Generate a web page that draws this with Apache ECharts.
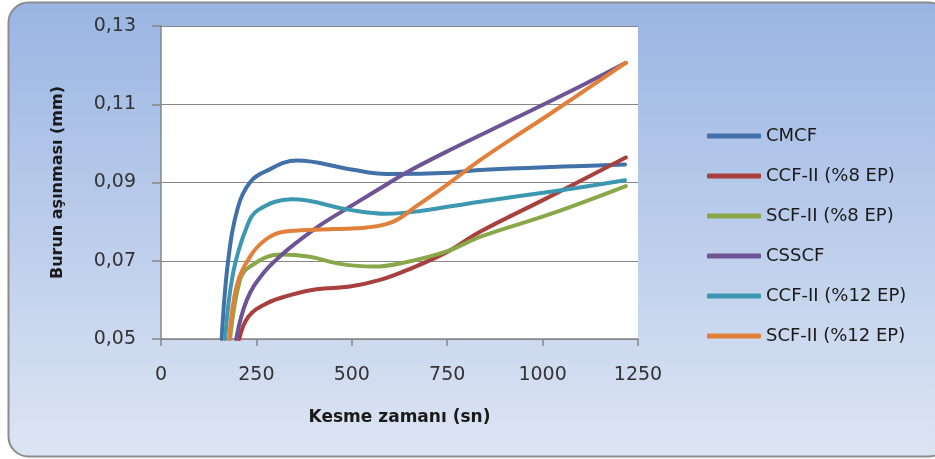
<!DOCTYPE html>
<html>
<head>
<meta charset="utf-8">
<script src="https://cdn.jsdelivr.net/npm/echarts@6/dist/echarts.min.js"></script>
<style>
  html, body { margin: 0; padding: 0; background: #ffffff; }
  #chart { width: 935px; height: 459px; }
</style>
</head>
<body>
<div id="chart"></div>
<script>
// Tool nose wear (mm) against cutting time (s) for six cutting fluids.
const seriesNames = ['CMCF', 'CCF-II (%8 EP)', 'SCF-II (%8 EP)', 'CSSCF', 'CCF-II (%12 EP)', 'SCF-II (%12 EP)'];

const tCMCF = [159, 176, 202, 233, 273, 356, 495, 591, 757, 836, 1216];
const wCMCF = [0.050, 0.0700, 0.0838, 0.0900, 0.0928, 0.0956, 0.0934, 0.0922, 0.0925, 0.0932, 0.0946];

const tCCF8 = [205, 229, 277, 338, 408, 495, 574, 644, 749, 836, 1011, 1218];
const wCCF8 = [0.050, 0.0557, 0.0591, 0.0612, 0.0627, 0.0634, 0.0651, 0.0676, 0.0722, 0.0774, 0.0860, 0.0964];

const tSCF8 = [181, 207, 233, 312, 390, 469, 556, 626, 749, 836, 1019, 1218];
const wSCF8 = [0.050, 0.0651, 0.0685, 0.0716, 0.0710, 0.0692, 0.0685, 0.0693, 0.0724, 0.0761, 0.0819, 0.0891];

const tCSSCF = [197, 225, 268, 321, 364, 425, 495, 591, 661, 757, 932, 1107, 1218];
const wCSSCF = [0.050, 0.0600, 0.0668, 0.0719, 0.0753, 0.0796, 0.0838, 0.0895, 0.0935, 0.0983, 0.1066, 0.1150, 0.1206];

const tCCF12 = [168, 189, 225, 255, 343, 495, 591, 679, 836, 1053, 1216];
const wCCF12 = [0.050, 0.0669, 0.0787, 0.0830, 0.0857, 0.0830, 0.0820, 0.0827, 0.0851, 0.0881, 0.0906];

const tSCF12 = [179, 198, 233, 273, 321, 452, 539, 609, 670, 749, 836, 923, 1019, 1218];
const wSCF12 = [0.050, 0.0634, 0.0710, 0.0753, 0.0774, 0.0781, 0.0785, 0.0800, 0.0840, 0.0894, 0.0957, 0.1014, 0.1075, 0.1206];

const xTicks = [0, 250, 500, 750, 1000, 1250];
const yTicks = [0.05, 0.07, 0.09, 0.11, 0.13];

const colors = ['#4270A8', '#A8403D', '#8AA84A', '#6E5494', '#3C98B0', '#E0803A'];

const times = [tCMCF, tCCF8, tSCF8, tCSSCF, tCCF12, tSCF12];
const wears = [wCMCF, wCCF8, wSCF8, wCSSCF, wCCF12, wSCF12];

function pairs(t, w) {
  return t.map((v, i) => [v, w[i]]);
}

const chart = echarts.init(document.getElementById('chart'), null, { renderer: 'canvas' });

const axisFont = 'DejaVu Sans';
const gray = '#868686';

chart.setOption({
  animation: false,
  color: colors,
  graphic: [{
    type: 'rect',
    z: -100,
    silent: true,
    shape: { x: 8.5, y: 2.5, width: 940, height: 454, r: 20 },
    style: {
      fill: new echarts.graphic.LinearGradient(0, 0, 0, 1, [
        { offset: 0, color: '#9AB5E3' },
        { offset: 1, color: '#DDE5F3' }
      ]),
      stroke: '#8C8C8C',
      lineWidth: 2
    }
  }],
  grid: {
    left: 161, right: 297, top: 26, bottom: 120,
    show: true, backgroundColor: '#ffffff', borderWidth: 0,
    containLabel: false
  },
  legend: {
    orient: 'vertical',
    left: 702, top: 121,
    itemWidth: 54, itemHeight: 5,
    itemGap: 20,
    icon: 'roundRect',
    data: seriesNames,
    textStyle: { fontFamily: axisFont, fontSize: 18, color: '#1a1a1a', lineHeight: 20 }
  },
  xAxis: {
    type: 'value',
    min: xTicks[0], max: xTicks[xTicks.length - 1], interval: xTicks[1] - xTicks[0],
    name: 'Kesme zamanı (sn)',
    nameLocation: 'middle',
    nameGap: 70,
    nameTextStyle: { fontFamily: axisFont, fontWeight: 'bold', fontSize: 17, color: '#1a1a1a' },
    axisLine: { show: true, lineStyle: { color: gray, width: 1.5 } },
    axisTick: { show: true, length: 7, inside: false, lineStyle: { color: gray, width: 1.5 } },
    splitLine: { show: false },
    axisLabel: { margin: 27, fontFamily: axisFont, fontSize: 19, color: '#333333', formatter: v => String(v) }
  },
  yAxis: {
    type: 'value',
    min: yTicks[0], max: yTicks[yTicks.length - 1], interval: 0.02,
    name: 'Burun aşınması (mm)',
    nameLocation: 'middle',
    nameRotate: 90,
    nameGap: 95,
    nameTextStyle: { fontFamily: axisFont, fontWeight: 'bold', fontSize: 16, color: '#1a1a1a' },
    axisLine: { show: true, lineStyle: { color: gray, width: 1.5 } },
    axisTick: { show: true, length: 9, inside: false, lineStyle: { color: gray, width: 1.5 } },
    splitLine: { show: true, lineStyle: { color: gray, width: 1.2 } },
    axisLabel: {
      margin: 25, fontFamily: axisFont, fontSize: 19, color: '#333333',
      formatter: v => v.toFixed(2).replace('.', ',')
    }
  },
  series: seriesNames.map((name, i) => ({
    name: name,
    type: 'line',
    data: pairs(times[i], wears[i]),
    smooth: 0.4,
    showSymbol: false,
    symbol: 'none',
    clip: true,
    lineStyle: { width: 4, color: colors[i], cap: 'round', join: 'round' },
    itemStyle: { color: colors[i] }
  }))
});
</script>
</body>
</html>
